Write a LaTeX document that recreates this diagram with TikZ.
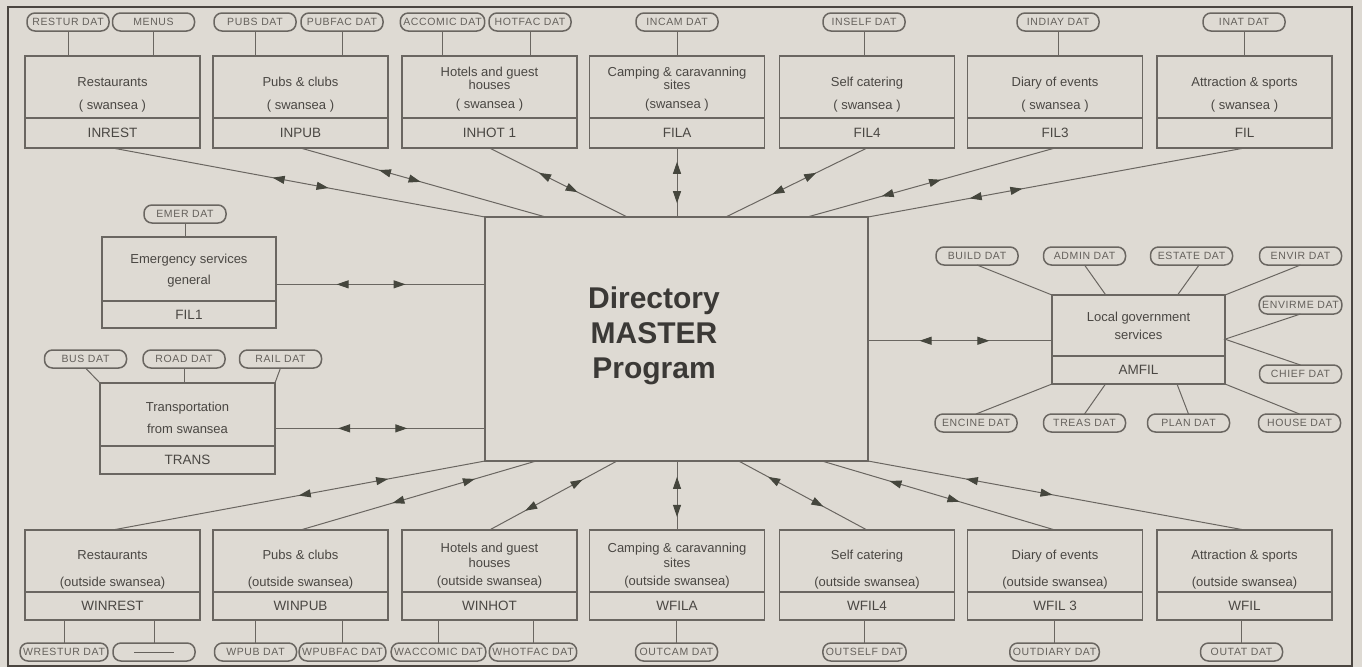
\documentclass[tikz,border=0pt]{standalone}
\usepackage{fontspec}
\setmainfont{Liberation Sans}
\newfontfamily\datfont[LetterSpace=6]{Liberation Sans}
\usetikzlibrary{positioning,arrows.meta,decorations.markings}
\definecolor{paper}{HTML}{DEDAD3}
\definecolor{linec}{HTML}{6A6661}
\definecolor{txtc}{HTML}{4A4743}
\definecolor{datc}{HTML}{65615C}
\definecolor{arrowc}{HTML}{45463D}
\definecolor{framec}{HTML}{4A4540}
\newcommand{\padtop}[1]{\rule{0pt}{#1}}
\tikzset{
  midtip/.tip={Triangle[length=12pt,width=8pt]},
  upbox/.style={draw=linec,line width=1.2pt,outer sep=0pt,inner sep=0pt,
    minimum width=175pt,minimum height=62pt,align=center,text=txtc,
    font=\fontsize{13}{16}\selectfont},
  codebox/.style={upbox,minimum height=30pt,font=\fontsize{13.5}{16}\selectfont},
  dat/.style={draw=linec,line width=1.5pt,rounded corners=8pt,outer sep=0pt,
    inner xsep=3pt,inner ysep=0pt,minimum width=82pt,minimum height=18pt,
    text=datc,font=\datfont\fontsize{10.5}{12}\selectfont},
  stem/.style={draw=linec,line width=1pt},
  master/.style={draw=linec,line width=1.3pt,outer sep=0pt,
    minimum width=383pt,minimum height=244pt},
  mastertxt/.style={align=center,text=txtc!80!black,
    font=\bfseries\fontsize{30}{35}\selectfont},
  link/.style 2 args={draw=linec,line width=1pt,
    postaction={decorate,decoration={markings,
      mark=at position #1 with {\arrowreversed[arrowc]{midtip}},
      mark=at position #2 with {\arrow[arrowc]{midtip}}}}}
}
\begin{document}
\begin{tikzpicture}[x=1pt,y=-1pt]
\useasboundingbox[fill=paper] (0,0) rectangle (1362,667);
\draw[framec,line width=2.5pt] (8,7) rectangle (1352,666);

% master program
\node[master] (master) at (676.5,339) {};
\node[mastertxt] at (654,336) {Directory\\MASTER\\Program};

% files for swansea
\node[upbox] (rest) at (112.5,87) {\padtop{24pt}Restaurants\\[7pt]( swansea )};
\node[codebox,below=0pt of rest] (restc) {INREST};
\node[upbox] (pub) at (300.5,87) {\padtop{24pt}Pubs \& clubs\\[7pt]( swansea )};
\node[codebox,below=0pt of pub] (pubc) {INPUB};
\node[upbox] (hot) at (489.5,87) {\padtop{13.5pt}Hotels and guest\\[-3pt]houses\\[3pt]( swansea )};
\node[codebox,below=0pt of hot] (hotc) {INHOT 1};
\node[upbox] (cam) at (677,87) {\padtop{13.5pt}Camping \& caravanning\\[-3pt]sites\\[3pt](swansea )};
\node[codebox,below=0pt of cam] (camc) {FILA};
\node[upbox] (self) at (867,87) {\padtop{24pt}Self catering\\[7pt]( swansea )};
\node[codebox,below=0pt of self] (selfc) {FIL4};
\node[upbox] (diary) at (1055,87) {\padtop{24pt}Diary of events\\[7pt]( swansea )};
\node[codebox,below=0pt of diary] (diaryc) {FIL3};
\node[upbox] (attr) at (1244.5,87) {\padtop{24pt}Attraction \& sports\\[7pt]( swansea )};
\node[codebox,below=0pt of attr] (attrc) {FIL};

\node[dat] (restd) at (68,22) {RESTUR DAT};
\node[dat] (menud) at (153.5,22) {MENUS};
\node[dat] (pubd) at (255,22) {PUBS DAT};
\node[dat] (pubfd) at (342,22) {PUBFAC DAT};
\node[dat] (accd) at (442.5,22) {ACCOMIC DAT};
\node[dat] (hotfd) at (530,22) {HOTFAC DAT};
\node[dat] (camd) at (677,22) {INCAM DAT};
\node[dat] (selfd) at (864,22) {INSELF DAT};
\node[dat] (diaryd) at (1058,22) {INDIAY DAT};
\node[dat] (attrd) at (1244,22) {INAT DAT};
\foreach \d/\b in {restd/rest,menud/rest,pubd/pub,pubfd/pub,accd/hot,hotfd/hot,
    camd/cam,selfd/self,diaryd/diary,attrd/attr}
  \draw[stem] (\d.south) -- (\d.south |- \b.north);

% emergency and transport
\node[upbox,minimum width=174pt,minimum height=64pt] (emer) at (189,269) {\padtop{13.5pt}Emergency services\\[5pt]general};
\node[codebox,minimum width=174pt,minimum height=27pt,below=0pt of emer] (emerc) {FIL1};
\node[dat] (emerd) at (185,214) {EMER DAT};
\draw[stem] (emerd.south) -- (emerd.south |- emer.north);

\node[upbox,minimum height=63pt] (trans) at (187.5,414.5) {\padtop{15.5pt}Transportation\\[6pt]from swansea};
\node[codebox,minimum height=28pt,below=0pt of trans] (transc) {TRANS};
\node[dat] (busd) at (85.5,359) {BUS DAT};
\node[dat] (roadd) at (184,359) {ROAD DAT};
\node[dat] (raild) at (280.5,359) {RAIL DAT};
\draw[stem] (busd.south) -- (trans.north west);
\draw[stem] (roadd.south) -- (roadd.south |- trans.north);
\draw[stem] (raild.south) -- (trans.north east);

% local government
\node[upbox,minimum width=173pt,minimum height=61pt] (lg) at (1138.5,325.5) {Local government\\[2pt]services};
\node[codebox,minimum width=173pt,minimum height=28pt,below=0pt of lg] (lgc) {AMFIL};
\node[dat] (buildd) at (977,256) {BUILD DAT};
\node[dat] (admind) at (1084.5,256) {ADMIN DAT};
\node[dat] (estated) at (1191.5,256) {ESTATE DAT};
\node[dat] (envird) at (1300.5,256) {ENVIR DAT};
\node[dat] (envirmed) at (1300.5,305) {ENVIRME DAT};
\node[dat] (chiefd) at (1300.5,374) {CHIEF DAT};
\node[dat] (engined) at (976,423) {ENCINE DAT};
\node[dat] (treasd) at (1084.5,423) {TREAS DAT};
\node[dat] (pland) at (1188.5,423) {PLAN DAT};
\node[dat] (housed) at (1299.5,423) {HOUSE DAT};
\draw[stem] (buildd.south) -- (lg.north west);
\draw[stem] (admind.south) -- (lg.137);
\draw[stem] (estated.-50) -- (lg.38);
\draw[stem] (envird.south) -- (lg.north east);
\draw[stem] (envirmed.south) -- (lg.-9) -- (chiefd.north);
\draw[stem] (engined.north) -- (lgc.south west);
\draw[stem] (treasd.north) -- (lgc.203);
\draw[stem] (pland.north) -- (lgc.-20);
\draw[stem] (housed.north) -- (lgc.south east);

% files outside swansea
\node[upbox] (wrest) at (112.5,561) {\padtop{26pt}Restaurants\\[11pt](outside swansea)};
\node[codebox,minimum height=28pt,below=0pt of wrest] (wrestc) {WINREST};
\node[upbox] (wpub) at (300.5,561) {\padtop{26pt}Pubs \& clubs\\[11pt](outside swansea)};
\node[codebox,minimum height=28pt,below=0pt of wpub] (wpubc) {WINPUB};
\node[upbox] (whot) at (489.5,561) {\padtop{18pt}Hotels and guest\\[-1pt]houses\\[2pt](outside swansea)};
\node[codebox,minimum height=28pt,below=0pt of whot] (whotc) {WINHOT};
\node[upbox] (wcam) at (677,561) {\padtop{18pt}Camping \& caravanning\\[-1pt]sites\\[2pt](outside swansea)};
\node[codebox,minimum height=28pt,below=0pt of wcam] (wcamc) {WFILA};
\node[upbox] (wself) at (867,561) {\padtop{26pt}Self catering\\[11pt](outside swansea)};
\node[codebox,minimum height=28pt,below=0pt of wself] (wselfc) {WFIL4};
\node[upbox] (wdiary) at (1055,561) {\padtop{26pt}Diary of events\\[11pt](outside swansea)};
\node[codebox,minimum height=28pt,below=0pt of wdiary] (wdiaryc) {WFIL 3};
\node[upbox] (wattr) at (1244.5,561) {\padtop{26pt}Attraction \& sports\\[11pt](outside swansea)};
\node[codebox,minimum height=28pt,below=0pt of wattr] (wattrc) {WFIL};

\node[dat] (wrestd) at (64,652) {WRESTUR DAT};
\node[dat] (blankd) at (154,652) {\rule[-1pt]{40pt}{1pt}};
\node[dat] (wpubd) at (255.5,652) {WPUB DAT};
\node[dat] (wpubfd) at (342.5,652) {WPUBFAC DAT};
\node[dat] (waccd) at (438.5,652) {WACCOMIC DAT};
\node[dat] (whotfd) at (533,652) {WHOTFAC DAT};
\node[dat] (wcamd) at (676.5,652) {OUTCAM DAT};
\node[dat] (wselfd) at (864.5,652) {OUTSELF DAT};
\node[dat] (wdiaryd) at (1054.5,652) {OUTDIARY DAT};
\node[dat] (wattrd) at (1241.5,652) {OUTAT DAT};
\foreach \d/\b in {wrestd/wrestc,blankd/wrestc,wpubd/wpubc,wpubfd/wpubc,waccd/whotc,
    whotfd/whotc,wcamd/wcamc,wselfd/wselfc,wdiaryd/wdiaryc,wattrd/wattrc}
  \draw[stem] (\d.north) -- (\d.north |- \b.south);

% links to the master program
\draw[link={0.43}{0.58}] (restc.south) -- (master.north west);
\draw[link={0.32}{0.49}] (pubc.south) -- (master.137);
\draw[link={0.36}{0.64}] (hotc.south) -- (master.112);
\draw[link={0.2}{0.8}] (camc.south) -- (camc.south |- master.north);
\draw[link={0.36}{0.67}] (selfc.south) -- (master.68);
\draw[link={0.46}{0.7}] (diaryc.south) -- (master.43);
\draw[link={0.59}{0.73}] (attrc.south) -- (master.north east);
\draw[link={0.29}{0.62}] (emer.-10) -- (emer.-10 -| master.west);
\draw[link={0.3}{0.63}] (trans.-9) -- (trans.-9 -| master.west);
\draw[link={0.34}{0.72}] (lg.190) -- (lg.190 -| master.east);
\draw[link={0.5}{0.74}] (wrest.north) -- (master.south west);
\draw[link={0.39}{0.74}] (wpub.north) -- (master.221);
\draw[link={0.28}{0.73}] (whot.north) -- (master.244);
\draw[link={0.19}{0.77}] (wcam.north) -- (wcam.north |- master.south);
\draw[link={0.34}{0.77}] (wself.north) -- (master.297);
\draw[link={0.41}{0.71}] (wdiary.north) -- (master.320);
\draw[link={0.51}{0.74}] (wattr.north) -- (master.south east);
\end{tikzpicture}
\end{document}
